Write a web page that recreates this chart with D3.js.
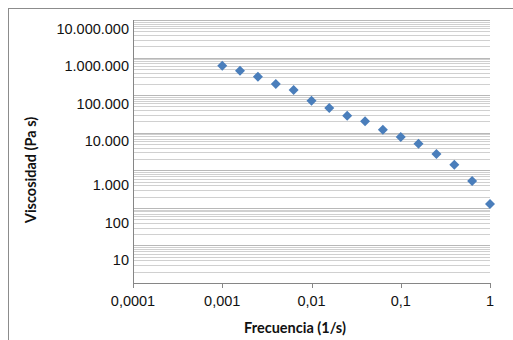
<!DOCTYPE html>
<html>
<head>
<meta charset="utf-8">
<script src="https://cdn.jsdelivr.net/npm/d3@7"></script>
<style>
  html, body { margin: 0; padding: 0; background: #fff; }
  svg { display: block; }
</style>
</head>
<body>
<svg id="chart" width="513" height="340"></svg>
<script>
// ---- data ----
const frequency = [0.001, 0.00158, 0.00251, 0.00398, 0.00631, 0.01, 0.0158, 0.0251,
                   0.0398, 0.0631, 0.1, 0.158, 0.251, 0.398, 0.631, 1];
const viscosity = [608000, 448000, 310000, 198000, 137000, 71200, 45500, 28400,
                   20100, 12000, 7690, 5100, 2710, 1410, 519, 127];
const xTicks = [0.0001, 0.001, 0.01, 0.1, 1];
const xTickLabels = ["0,0001", "0,001", "0,01", "0,1", "1"];
const yTicks = [10000000, 1000000, 100000, 10000, 1000, 100, 10];
const yTickLabels = ["10.000.000", "1.000.000", "100.000", "10.000", "1.000", "100", "10"];
const xTitle = "Frecuencia (1/s)";
const yTitle = "Viscosidad (Pa s)";

(function () {
// ---- layout ----
const svg = d3.select("#chart");
const pLeft = 133, pRight = 490, pTop = 20, pBottom = 283;

const x = d3.scaleLog().domain([0.0001, 1]).range([pLeft, pRight]);
const y = d3.scaleLog().domain([1, 10000000]).range([pBottom, pTop]);

// outer chart border (cropped)
svg.append("rect")
  .attr("x", 8.5).attr("y", 8.5).attr("width", 520).attr("height", 340)
  .attr("fill", "none").attr("stroke", "#8c8c8c").attr("stroke-width", 1);

// gridlines (major + minor)
const gridVals = [];
for (let e = 0; e < 7; e++) {
  for (let k = 1; k <= 9; k++) gridVals.push(k * Math.pow(10, e));
}
gridVals.push(10000000);
svg.append("g").selectAll("line")
  .data(gridVals.filter(v => v > 1))
  .join("line")
  .attr("x1", pLeft).attr("x2", pRight)
  .attr("y1", d => Math.round(y(d)) + 0.5)
  .attr("y2", d => Math.round(y(d)) + 0.5)
  .attr("stroke", d => (Math.abs(Math.log10(d) - Math.round(Math.log10(d))) < 1e-9) ? "#b8b8b8" : "#d0d0d0")
  .attr("stroke-width", 1);

// axes lines
svg.append("line").attr("x1", pLeft + 0.5).attr("x2", pLeft + 0.5)
  .attr("y1", pTop).attr("y2", pBottom + 0.5).attr("stroke", "#868686");
svg.append("line").attr("x1", pLeft).attr("x2", pRight + 1)
  .attr("y1", pBottom + 0.5).attr("y2", pBottom + 0.5).attr("stroke", "#868686");

// x ticks
svg.append("g").selectAll("line").data(xTicks).join("line")
  .attr("x1", d => Math.round(x(d)) + 0.5).attr("x2", d => Math.round(x(d)) + 0.5)
  .attr("y1", pBottom).attr("y2", pBottom + 5).attr("stroke", "#868686");

svg.append("g").selectAll("text").data(xTicks).join("text")
  .attr("x", d => x(d)).attr("y", 301)
  .attr("text-anchor", "middle").attr("dominant-baseline", "central")
  .attr("font-family", "'Liberation Sans', Arial, sans-serif")
  .attr("font-size", "14.5px").attr("fill", "#111")
  .text((d, i) => xTickLabels[i]);

// y tick labels
svg.append("g").selectAll("text").data(yTicks).join("text")
  .attr("x", pLeft - 4)
  .attr("y", d => y(d) + (d >= 10000 ? 8.5 : 15))
  .attr("text-anchor", "end").attr("dominant-baseline", "central")
  .attr("font-family", "'Liberation Sans', Arial, sans-serif")
  .attr("font-size", "14.5px").attr("fill", "#111")
  .text((d, i) => yTickLabels[i]);

// titles
svg.append("text")
  .attr("x", 295).attr("y", 327)
  .attr("text-anchor", "middle").attr("dominant-baseline", "central")
  .attr("font-family", "Lato, 'Open Sans', sans-serif")
  .attr("font-weight", "bold").attr("font-size", "14.5px").attr("fill", "#111")
  .text(xTitle);

svg.append("text")
  .attr("transform", "translate(30,170) rotate(-90)")
  .attr("text-anchor", "middle").attr("dominant-baseline", "central")
  .attr("font-family", "Lato, 'Open Sans', sans-serif")
  .attr("font-weight", "bold").attr("font-size", "14.5px").attr("fill", "#111")
  .text(yTitle);

// markers (diamonds)
const r = 5;
const diamond = `M0,${-r}L${r},0L0,${r}L${-r},0Z`;
svg.append("g").selectAll("path")
  .data(frequency.map((f, i) => ({ f, v: viscosity[i] })))
  .join("path")
  .attr("transform", d => `translate(${x(d.f)},${y(d.v)})`)
  .attr("d", diamond)
  .attr("fill", "#4a7ebb");
})();
</script>
</body>
</html>
